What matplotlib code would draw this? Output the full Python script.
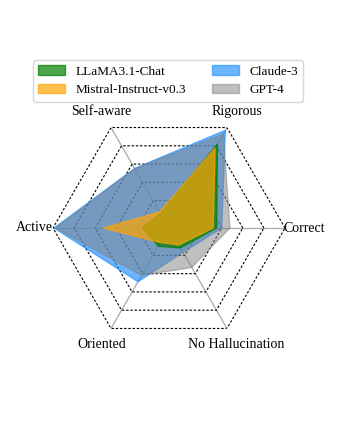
import numpy as np
import matplotlib
matplotlib.use("Agg")
import matplotlib.pyplot as plt

plt.rcParams['font.family'] = ['Liberation Serif', 'DejaVu Serif']

# axes listed counter-clockwise starting at 0 degrees
axes_labels = ["Correct", "Rigorous", "Self-aware", "Active", "Oriented", "No Hallucination"]

llama = [1.76, 4.10, 0.30, 0.78, 0.50, 0.59]
mistral = [1.60, 3.87, 0.38, 2.61, 0.30, 0.43]
claude = [2.00, 4.85, 2.76, 4.95, 2.44, 0.83]
gpt4 = [2.39, 4.65, 2.74, 4.88, 2.10, 1.66]

series_names = ["LLaMA3.1-Chat", "Mistral-Instruct-v0.3", "Claude-3", "GPT-4"]
ring_levels = [0, 1, 2, 3, 4, 5]

W, H = 339, 433
fig = plt.figure(figsize=(W / 100, H / 100), dpi=100)
cx, cy, R = 169, 228, 116
ax = fig.add_axes([(cx - R) / W, (H - cy - R) / H, 2 * R / W, 2 * R / H], projection='polar')

n = len(axes_labels)
theta = np.arange(n) * 2 * np.pi / n
theta_c = np.concatenate([theta, theta[:1]])

ax.set_ylim(-0.5, 5)
ax.grid(False)
ax.spines['polar'].set_visible(False)
ax.set_xticks([])
ax.set_yticks([])
ax.patch.set_alpha(0)

# hexagonal rings
for lv in ring_levels:
    ax.plot(theta_c, [lv] * (n + 1), color='black', lw=0.8,
            linestyle=(0, (2.2, 1.6)), zorder=0.5)
# spokes
for t in theta:
    ax.plot([t, t], [-0.5, 5], color='#a8a8a8', lw=0.9, zorder=0.4)

def draw(vals, color, alpha, label, z):
    v = list(vals) + [vals[0]]
    return ax.fill(theta_c, v, facecolor=color, edgecolor=color, lw=1.0,
                   alpha=alpha, label=label, zorder=z)[0]

h_claude = draw(claude, '#1E90FF', 0.65, series_names[2], 1)
h_gpt = draw(gpt4, '#808080', 0.5, series_names[3], 2)
h_llama = draw(llama, '#008000', 0.7, series_names[0], 3)
h_mistral = draw(mistral, '#FFA500', 0.7, series_names[1], 4)

for t, lab in zip(theta, axes_labels):
    ax.text(t, 5.9, lab, ha='center', va='center', fontsize=10)

fig.legend(handles=[h_llama, h_mistral, h_claude, h_gpt], labels=series_names,
           loc='upper center', bbox_to_anchor=(168 / W, 1 - 60 / H),
           borderaxespad=0, ncol=2, fontsize=9.5, frameon=True,
           edgecolor='#cccccc')

fig.savefig('out.png', dpi=100)
